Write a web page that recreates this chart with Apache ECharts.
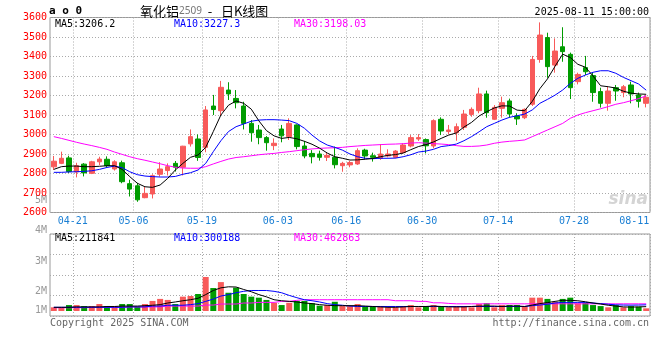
<!DOCTYPE html>
<html><head><meta charset="utf-8">
<script src="https://cdn.jsdelivr.net/npm/echarts@6/dist/echarts.min.js"></script>
<style>html,body{margin:0;padding:0;background:#fff}#c{width:660px;height:360px}</style>
</head><body><div id="c"></div>
<script>
const dates = ['04-17','04-18','04-21','04-22','04-23','04-24','04-25','04-28','04-29','04-30',
'05-06','05-07','05-08','05-09','05-12','05-13','05-14','05-15','05-16','05-19',
'05-20','05-21','05-22','05-23','05-26','05-27','05-28','05-29','05-30','06-03',
'06-04','06-05','06-06','06-09','06-10','06-11','06-12','06-13','06-16','06-17',
'06-18','06-19','06-20','06-23','06-24','06-25','06-26','06-27','06-30','07-01',
'07-02','07-03','07-04','07-07','07-08','07-09','07-10','07-11','07-14','07-15',
'07-16','07-17','07-18','07-21','07-22','07-23','07-24','07-25','07-28','07-29',
'07-30','07-31','08-01','08-04','08-05','08-06','08-07','08-08','08-11'];
const labelDates = ['04-21','05-06','05-19','06-03','06-16','06-30','07-14','07-28','08-11'];

const opens = [2834,2852,2880,2808,2848,2801,2860,2873,2823,2855,
2748,2737,2676,2695,2796,2815,2852,2832,2952,2977,
2934,3146,3122,3228,3185,3146,3057,3023,2984,2943,
3028,2989,3049,2941,2903,2900,2883,2883,2840,2844,
2849,2920,2891,2878,2890,2883,2907,2941,2977,2974,
2941,3078,3015,3009,3037,3103,3122,3208,3078,3134,
3172,3095,3086,3155,3385,3497,3356,3450,3411,3271,
3343,3302,3220,3160,3240,3215,3254,3203,3160];
const closes = [2863,2878,2810,2840,2803,2860,2874,2840,2860,2758,
2720,2665,2698,2789,2823,2835,2832,2940,2989,2882,
3126,3128,3242,3208,3163,3057,3009,2984,2958,2955,
2993,3057,2938,2890,2886,2883,2893,2845,2852,2856,
2917,2890,2883,2900,2900,2915,2946,2984,2984,2942,
3071,3018,3023,3040,3105,3129,3208,3112,3139,3163,
3105,3080,3129,3385,3510,3348,3428,3425,3240,3308,
3322,3215,3160,3223,3223,3245,3208,3170,3191];
const highs = [2890,2912,2891,2855,2853,2865,2886,2888,2868,2866,
2768,2752,2732,2796,2858,2852,2864,2942,3026,3000,
3146,3203,3275,3268,3228,3168,3074,3049,2992,2980,
3049,3083,3052,2967,2920,2917,2907,2938,2860,2864,
2929,2927,2907,2951,2924,2920,2955,2997,3002,2980,
3078,3088,3049,3057,3126,3139,3240,3225,3151,3194,
3184,3109,3134,3403,3575,3522,3493,3550,3420,3317,
3403,3319,3240,3245,3254,3254,3271,3215,3203];
const lows = [2818,2848,2803,2780,2785,2797,2843,2830,2815,2750,
2682,2655,2673,2672,2784,2790,2810,2790,2938,2865,
2909,3100,3095,3177,3134,3026,2963,2950,2917,2920,
2960,2972,2924,2878,2852,2866,2864,2826,2809,2832,
2844,2873,2861,2870,2883,2878,2900,2934,2967,2903,
2929,2997,3001,2968,3023,3091,3109,3086,3074,3086,
3086,3049,3079,3146,3368,3291,3317,3373,3182,3257,
3305,3168,3138,3122,3173,3191,3160,3138,3139];

const ma5 = [2821,2835,2838,2838,2835,2835,2837,2840,2840,2821,
2784,2750,2732,2729,2741,2775,2818,2852,2883,2895,
2934,3015,3100,3150,3172,3160,3130,3070,3020,2993,
2980,2985,2978,2965,2950,2930,2905,2886,2878,2869,
2870,2873,2877,2886,2893,2897,2905,2922,2938,2948,
2962,2980,2997,3008,3038,3062,3095,3117,3136,3147,
3146,3125,3122,3170,3235,3285,3350,3412,3395,3360,
3345,3300,3250,3245,3238,3222,3212,3208,3206.2];
const ma10 = [2806,2806,2808,2809,2811,2814,2821,2831,2838,2830,
2809,2794,2787,2784,2782,2782,2785,2796,2804,2818,
2852,2912,2968,3015,3040,3054,3068,3074,3076,3076,
3074,3071,3057,3032,2997,2967,2946,2934,2920,2900,
2886,2878,2876,2878,2878,2879,2886,2896,2910,2915,
2924,2938,2943,2951,2968,2989,3014,3040,3057,3074,
3088,3096,3105,3126,3160,3180,3202,3228,3262,3288,
3305,3319,3327,3327,3314,3293,3276,3259,3227.3];
const ma30 = [2989,2980,2970,2960,2951,2943,2934,2924,2910,2898,
2886,2876,2868,2859,2850,2840,2832,2828,2827,2827,
2835,2849,2862,2874,2882,2886,2891,2896,2900,2903,
2908,2912,2917,2922,2926,2929,2931,2932,2934,2938,
2941,2944,2946,2948,2950,2951,2953,2956,2958,2956,
2953,2951,2948,2943,2939,2939,2941,2946,2955,2961,
2965,2968,2972,2989,3006,3023,3040,3057,3083,3100,
3112,3122,3132,3143,3155,3163,3173,3184,3198.03];

// volume in thousands
const volK = [180,180,290,290,240,240,340,240,240,340,
340,210,340,490,590,540,340,700,730,830,
1660,1120,1410,890,1140,830,700,650,540,400,
290,400,490,490,380,260,290,450,240,240,
340,210,210,240,180,180,240,290,180,240,
290,240,180,240,240,180,340,380,180,290,
290,290,240,650,650,590,450,590,650,380,
400,290,240,180,290,180,240,210,130];
const volMa5K = [180,180,180,200,200,200,200,220,220,240,
240,240,260,280,310,390,440,500,550,620,
800,1000,1130,1180,1170,1050,940,800,690,550,
500,470,440,390,360,310,280,260,260,260,
260,240,220,200,180,180,200,220,220,220,
240,220,200,200,200,220,240,240,240,220,
240,240,220,290,360,410,470,520,520,500,
450,390,340,280,240,200,190,200,212];
const volMa10K = [180,180,180,180,180,180,180,180,180,180,
200,200,200,240,240,280,280,280,310,360,
470,580,730,800,890,960,1000,1000,1000,960,
890,760,650,550,500,440,360,310,280,240,
220,220,220,220,220,220,220,220,220,220,
220,220,220,220,220,220,220,220,220,220,
220,220,220,260,290,330,390,420,420,420,
420,390,360,330,300,290,285,290,300];
const volMa30K = [160,160,160,160,160,180,180,180,180,180,
200,200,200,200,200,240,240,240,240,240,
290,290,340,340,340,390,390,420,420,420,
470,470,520,550,550,550,550,550,550,550,
550,550,550,550,550,500,500,500,470,470,
400,400,370,350,350,350,350,350,350,350,
350,350,350,350,350,350,350,350,350,350,
350,350,350,350,350,350,350,350,350];

const volTicks = ['1M','2M','3M','4M'];
const RED = '#f85a5a', GREEN = '#009c00';
const MONO = '"DejaVu Sans Mono", monospace';

const candleData = dates.map((d, i) => [opens[i], closes[i], lows[i], highs[i]]);
const volData = dates.map((d, i) => ({
  value: volK[i] * 1000,
  itemStyle: { color: closes[i] >= opens[i] ? RED : GREEN }
}));
const k = a => a.map(v => v * 1000);

const splitX = {
  show: true,
  interval: (i) => i > 0 && labelDates.includes(dates[i - 1]),
  lineStyle: { color: '#aaa', type: [1, 2], width: 1 }
};

const chart = echarts.init(document.getElementById('c'));
chart.setOption({
  animation: false,
  backgroundColor: '#fff',
  grid: [
    { left: 50, right: 10, top: 17.5, height: 195, show: true, borderColor: '#999', borderWidth: 1 },
    { left: 50, right: 10, top: 234, height: 82, show: true, borderColor: '#999', borderWidth: 1 }
  ],
  xAxis: [
    { type: 'category', gridIndex: 0, data: dates, boundaryGap: true,
      axisLine: { show: false }, axisTick: { show: false },
      axisLabel: {
        interval: (i, v) => labelDates.includes(v),
        margin: 4,
        formatter: v => v === dates[dates.length - 1] ? '{e|' + v + '}' : '{n|' + v + '}',
        rich: {
          n: { color: '#1a7fd4', fontFamily: MONO, fontSize: 10, padding: [0, 0, 0, 7.6] },
          e: { color: '#1a7fd4', fontFamily: MONO, fontSize: 10, padding: [0, 24, 0, 0] }
        }
      },
      splitLine: splitX },
    { type: 'category', gridIndex: 1, data: dates, boundaryGap: true,
      axisLine: { show: false }, axisTick: { show: false }, axisLabel: { show: false },
      splitLine: splitX }
  ],
  yAxis: [
    { type: 'value', gridIndex: 0, min: 2600, max: 3600, interval: 100,
      axisLine: { show: false }, axisTick: { show: false },
      axisLabel: { color: '#ff0000', fontFamily: MONO, fontSize: 10, margin: 3, formatter: v => String(v) },
      splitLine: { lineStyle: { color: '#aaa', type: [1, 2] } } },
    { type: 'value', gridIndex: 1, min: 0, max: 4000000, interval: 1000000,
      axisLine: { show: false }, axisTick: { show: false },
      axisLabel: {
        margin: 3,
        formatter: v => { const n = Math.round(v / 1e6); return n > 0 ? '{r' + n + '|' + volTicks[n - 1] + '}' : ''; },
        rich: {
          r4: { color: '#999', fontFamily: MONO, fontSize: 10, padding: [0, 0, 8, 0] },
          r3: { color: '#999', fontFamily: MONO, fontSize: 10, padding: [13, 0, 0, 0] },
          r2: { color: '#999', fontFamily: MONO, fontSize: 10, padding: [32, 0, 0, 0] },
          r1: { color: '#999', fontFamily: MONO, fontSize: 10, padding: [29, 0, 0, 0] }
        }
      },
      splitLine: { lineStyle: { color: '#aaa', type: [1, 2] } } },
    { type: 'value', gridIndex: 1, min: -244000, max: 3756000,
      show: false, splitLine: { show: false } }
  ],
  series: [
    { type: 'candlestick', xAxisIndex: 0, yAxisIndex: 0, data: candleData, barWidth: 5,
      itemStyle: { color: RED, color0: GREEN, borderColor: RED, borderColor0: GREEN, borderWidth: 1 } },
    { type: 'line', xAxisIndex: 0, yAxisIndex: 0, data: ma30, symbol: 'none', lineStyle: { color: '#ff00ff', width: 1 }, z: 3 },
    { type: 'line', xAxisIndex: 0, yAxisIndex: 0, data: ma10, symbol: 'none', lineStyle: { color: '#0000ff', width: 1 }, z: 3 },
    { type: 'line', xAxisIndex: 0, yAxisIndex: 0, data: ma5, symbol: 'none', lineStyle: { color: '#000000', width: 1 }, z: 4 },
    { type: 'bar', xAxisIndex: 1, yAxisIndex: 2, data: volData, barWidth: 6 },
    { type: 'line', xAxisIndex: 1, yAxisIndex: 2, data: k(volMa30K), symbol: 'none', lineStyle: { color: '#ff00ff', width: 1 }, z: 3 },
    { type: 'line', xAxisIndex: 1, yAxisIndex: 2, data: k(volMa10K), symbol: 'none', lineStyle: { color: '#0000ff', width: 1 }, z: 3 },
    { type: 'line', xAxisIndex: 1, yAxisIndex: 2, data: k(volMa5K), symbol: 'none', lineStyle: { color: '#000000', width: 1 }, z: 4 }
  ],
  graphic: [
    { type: 'text', x: 49, y: 11, style: { text: 'a o 0', font: 'bold 11px ' + MONO, fill: '#000', verticalAlign: 'middle', textVerticalAlign: 'middle' } },
    { type: 'text', x: 140, y: 11, style: {
        text: '{a|氧化铝}{b|2509}{a|  -   日K线图}', verticalAlign: 'middle', textVerticalAlign: 'middle',
        rich: { a: { font: '13px "Noto Sans CJK SC"', fill: '#000' }, b: { font: '10px "Noto Sans"', fill: '#777' } } } },
    { type: 'text', x: 649, y: 12, style: { text: '2025-08-11 15:00:00', font: '10px ' + MONO, fill: '#000', align: 'right', textAlign: 'right', verticalAlign: 'middle', textVerticalAlign: 'middle' } },
    { type: 'text', x: 55, y: 24, style: { text: 'MA5:' + ma5[ma5.length - 1], font: '10px ' + MONO, fill: '#000', verticalAlign: 'middle', textVerticalAlign: 'middle' } },
    { type: 'text', x: 174, y: 24, style: { text: 'MA10:' + ma10[ma10.length - 1], font: '10px ' + MONO, fill: '#0000ff', verticalAlign: 'middle', textVerticalAlign: 'middle' } },
    { type: 'text', x: 294, y: 24, style: { text: 'MA30:' + ma30[ma30.length - 1], font: '10px ' + MONO, fill: '#ff00ff', verticalAlign: 'middle', textVerticalAlign: 'middle' } },
    { type: 'text', x: 55, y: 238.5, style: { text: 'MA5:211841', font: '10px ' + MONO, fill: '#000', verticalAlign: 'middle', textVerticalAlign: 'middle' } },
    { type: 'text', x: 174, y: 238.5, style: { text: 'MA10:300188', font: '10px ' + MONO, fill: '#0000ff', verticalAlign: 'middle', textVerticalAlign: 'middle' } },
    { type: 'text', x: 294, y: 238.5, style: { text: 'MA30:462863', font: '10px ' + MONO, fill: '#ff00ff', verticalAlign: 'middle', textVerticalAlign: 'middle' } },
    { type: 'text', x: 47, y: 200, style: { text: '5M', font: '10px ' + MONO, fill: '#999', align: 'right', textAlign: 'right', verticalAlign: 'middle', textVerticalAlign: 'middle' } },
    { type: 'text', x: 50, y: 323, style: { text: 'Copyright 2025 SINA.COM', font: '10px ' + MONO, fill: '#666', verticalAlign: 'middle', textVerticalAlign: 'middle' } },
    { type: 'text', x: 649, y: 323, style: { text: 'http://finance.sina.com.cn', font: '10px ' + MONO, fill: '#666', align: 'right', textAlign: 'right', verticalAlign: 'middle', textVerticalAlign: 'middle' } },
    { type: 'text', x: 648, y: 200, style: { text: 'sina', font: 'italic bold 17px "DejaVu Sans"', fill: '#d4d4d4', align: 'right', textAlign: 'right', verticalAlign: 'middle', textVerticalAlign: 'middle' } }
  ]
});
</script></body></html>
